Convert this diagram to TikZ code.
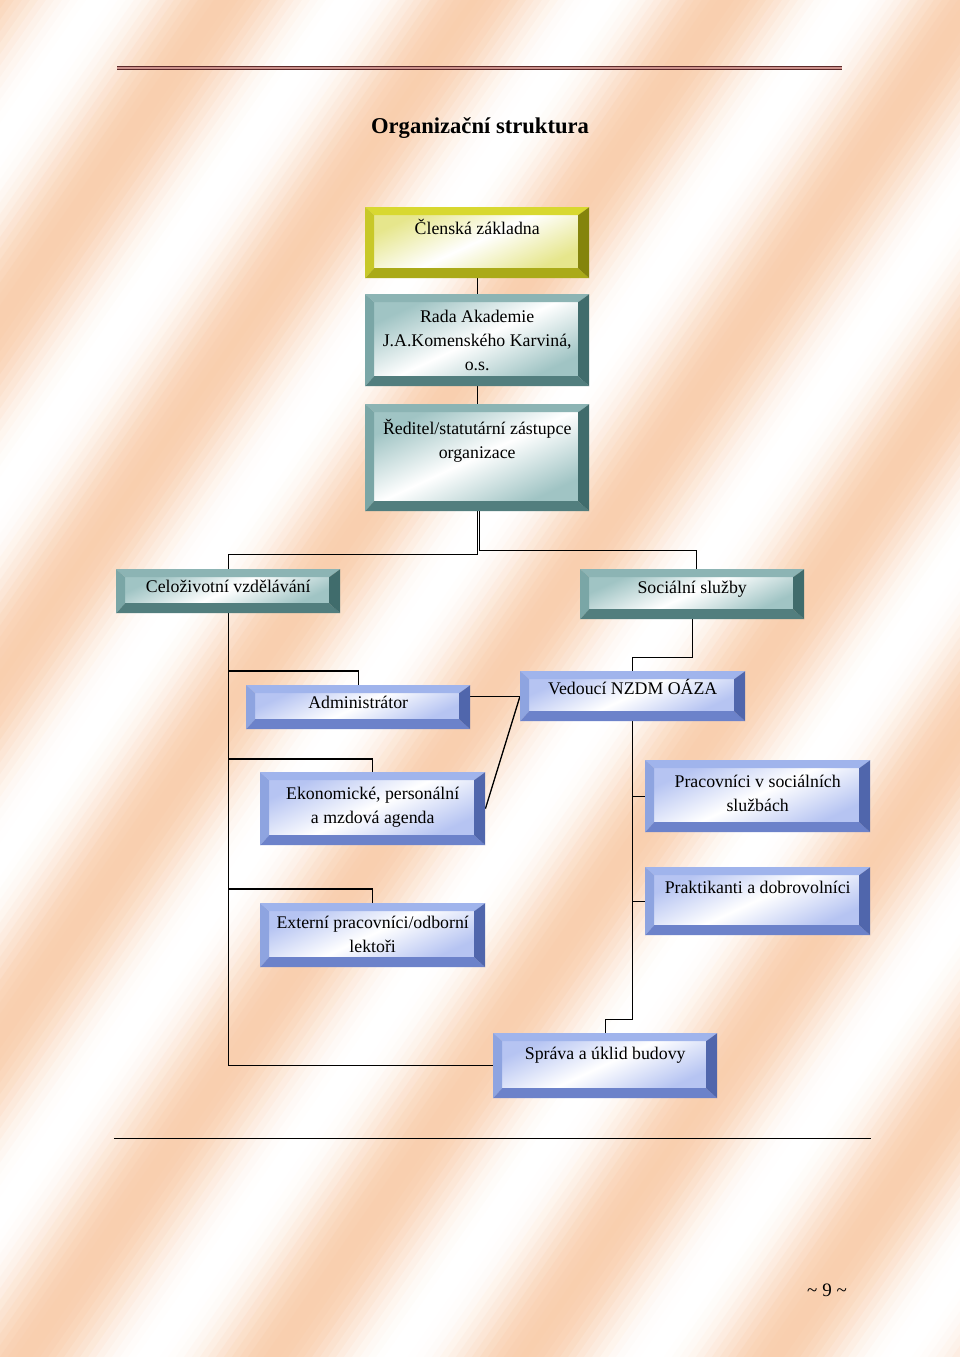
\documentclass[tikz,border=0pt]{standalone}
\usepackage{fontspec}
\setmainfont{Liberation Serif}
\usepackage{xcolor}
\definecolor{peach}{RGB}{248,200,163}
\definecolor{ruledark}{RGB}{92,42,42}
\definecolor{rulepink}{RGB}{205,145,140}
% yellow box
\definecolor{yltop}{RGB}{216,216,48}
\definecolor{ylleft}{RGB}{200,200,40}
\definecolor{ylbot}{RGB}{170,170,24}
\definecolor{ylright}{RGB}{132,132,12}
\definecolor{ylface}{RGB}{230,230,140}
% teal boxes
\definecolor{tltop}{RGB}{140,180,180}
\definecolor{tlleft}{RGB}{122,166,166}
\definecolor{tlbot}{RGB}{82,126,126}
\definecolor{tlright}{RGB}{64,108,108}
\definecolor{tlface}{RGB}{160,196,196}
% blue boxes
\definecolor{bltop}{RGB}{160,180,236}
\definecolor{blleft}{RGB}{142,164,224}
\definecolor{blbot}{RGB}{108,130,202}
\definecolor{blright}{RGB}{80,102,172}
\definecolor{blface}{RGB}{182,196,242}
\usepackage{tikz}
\usetikzlibrary{calc}
\pgfdeclarelayer{paper}
\pgfdeclarelayer{lines}
\pgfsetlayers{paper,lines,main}

\newcommand{\bevel}[5]{%
  \coordinate (pnw) at (path picture bounding box.north west);
  \coordinate (pne) at (path picture bounding box.north east);
  \coordinate (pse) at (path picture bounding box.south east);
  \coordinate (psw) at (path picture bounding box.south west);
  \coordinate (inw) at ([shift={(9pt,-8pt)}]pnw);
  \coordinate (ine) at ([shift={(-11pt,-8pt)}]pne);
  \coordinate (ise) at ([shift={(-11pt,10pt)}]pse);
  \coordinate (isw) at ([shift={(9pt,10pt)}]psw);
  \shade[top color=#1, bottom color=#1, middle color=white, shading angle=25] (inw) rectangle (ise);
  \fill[#2] (pnw) -- (pne) -- (ine) -- (inw) -- cycle;
  \fill[#3] (pnw) -- (inw) -- (isw) -- (psw) -- cycle;
  \fill[#4] (psw) -- (isw) -- (ise) -- (pse) -- cycle;
  \fill[#5] (pne) -- (pse) -- (ise) -- (ine) -- cycle;
}

\tikzset{
  orgbox/.style={inner sep=0pt, anchor=north west, align=center,
    font=\fontsize{17.8}{24}\selectfont},
  member/.style={orgbox, path picture={\bevel{ylface}{yltop}{ylleft}{ylbot}{ylright}}},
  board/.style={orgbox, path picture={\bevel{tlface}{tltop}{tlleft}{tlbot}{tlright}}},
  staff/.style={orgbox, path picture={\bevel{blface}{bltop}{blleft}{blbot}{blright}}},
  link/.style={black, line width=1.3pt},
}

\begin{document}
\begin{tikzpicture}[x=1pt, y=-1pt]
  \useasboundingbox (0,0) rectangle (960,1357);

  % background
  \begin{pgfonlayer}{paper}
    \clip (0,0) rectangle (960,1357);
    \fill[white] (0,0) rectangle (960,1357);
    \foreach \x in {-960,-952,...,968} {
      \pgfmathtruncatemacro{\p}{88*((1+cos((\x+730)/250*360))/2)^1.2}
      \fill[peach!\p!white] (\x,1357) -- (\x+9,1357) -- (\x+959,0) -- (\x+950,0) -- cycle;
    }
  \end{pgfonlayer}

  % rules, title, page number
  \draw[ruledark, line width=4pt] (117,68) -- (842,68);
  \draw[rulepink, line width=1.4pt] (117,68) -- (842,68);
  \draw[black, line width=1pt] (114,1138) -- (871,1138);
  \node[font=\fontsize{22.6}{26}\selectfont\bfseries] (title) at (480,128) {Organizační struktura};
  \node[font=\fontsize{19}{24}\selectfont] (page) at (827,1290) {\textasciitilde{} 9 \textasciitilde};

  % boxes
  \node[member, minimum width=224pt, text height=27pt, text depth=44pt] (clen) at (365,207) {Členská základna};
  \node[board, minimum width=224pt, text height=76pt, text depth=16pt] (rada) at (365,294) {Rada Akademie\\J.A.Komenského Karviná,\\o.s.};
  \node[board, minimum width=224pt, text height=54pt, text depth=53pt] (reditel) at (365,404) {Ředitel/statutární zástupce\\organizace};
  \node[board, minimum width=224pt, text height=23pt, text depth=21pt] (celo) at (116,569) {Celoživotní vzdělávání};
  \node[board, minimum width=224pt, text height=24pt, text depth=26pt] (soc) at (580,569) {Sociální služby};
  \node[staff, minimum width=224pt, text height=23pt, text depth=21pt] (admin) at (246,685) {Administrátor};
  \node[staff, minimum width=225pt, text height=23pt, text depth=27pt] (ved) at (520,671) {Vedoucí NZDM OÁZA};
  \node[staff, minimum width=225pt, text height=51pt, text depth=22pt] (ekon) at (260,772) {Ekonomické, personální\\a mzdová agenda};
  \node[staff, minimum width=225pt, text height=51pt, text depth=21pt] (prac) at (645,760) {Pracovníci v sociálních\\službách};
  \node[staff, minimum width=225pt, text height=26pt, text depth=42pt] (prakt) at (645,867) {Praktikanti a dobrovolníci};
  \node[staff, minimum width=225pt, text height=49pt, text depth=15pt] (ext) at (260,903) {Externí pracovníci/odborní\\lektoři};
  \node[staff, minimum width=224pt, text height=26pt, text depth=39pt] (sprava) at (493,1033) {Správa a úklid budovy};

  % junctions on the left trunk
  \coordinate (jadmin) at (228,671);
  \coordinate (jekon) at (228,759);
  \coordinate (jext) at (228,889);

  % connectors
  \begin{pgfonlayer}{lines}
  \draw[link] (clen.south) -- (rada.north);
  \draw[link] (rada.south) -- (reditel.north);
  \draw[link] (reditel.south) -- ++(0,43) -| (celo.north);
  \draw[link] ([xshift=2pt]reditel.south) -- ++(0,39) -| ([xshift=4pt]soc.north);
  \draw[link] (soc.south) -- ++(0,38) -| (ved.north);
  \draw[link] (celo.south) |- (sprava.west);
  \draw[link] (admin.north) |- (jadmin);
  \draw[link] (ekon.north) |- (jekon);
  \draw[link] (ext.north) |- (jext);
  \draw[link] (ved.west) -- (ved.west -| admin.east);
  \draw[link] (ved.west) -- (ekon.east);
  \draw[link] (ved.south) -- ++(0,298) -| (sprava.north);
  \draw[link] (prac.west) -- (prac.west -| ved.south);
  \draw[link] (prakt.west) -- (prakt.west -| ved.south);
  \end{pgfonlayer}
\end{tikzpicture}
\end{document}
